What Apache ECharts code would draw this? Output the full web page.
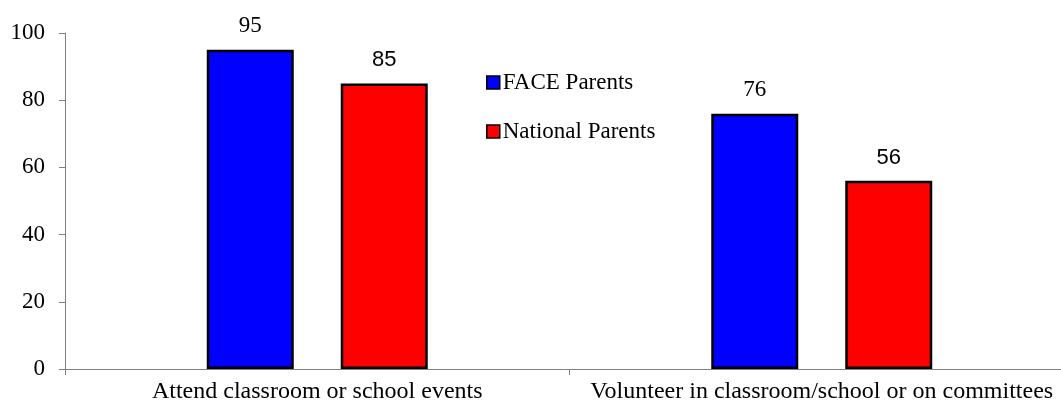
<!DOCTYPE html>
<html>
<head>
<meta charset="utf-8">
<script src="https://cdn.jsdelivr.net/npm/echarts@6/dist/echarts.min.js"></script>
<style>
  html, body { margin: 0; padding: 0; background: #fff; }
  #chart { width: 1061px; height: 406px; }
</style>
</head>
<body>
<div id="chart"></div>
<script>
const categories = ['Attend classroom or school events', 'Volunteer in classroom/school or on committees']
const faceParents = [95, 76]
const nationalParents = [85, 56]
const yTicks = [0, 20, 40, 60, 80, 100]

const serif = '"Liberation Serif", "Times New Roman", serif'
const sans = '"Liberation Sans", Arial, sans-serif'

const chart = echarts.init(document.getElementById('chart'))
chart.setOption({
  animation: false,
  textStyle: { fontFamily: serif },
  // plot runs a little past the right edge, like the original
  grid: { left: 65, right: -13, top: 33, bottom: 37, containLabel: false, outerBoundsMode: 'none' },
  legend: {
    orient: 'vertical',
    left: 481,
    top: 66,
    itemWidth: 13,
    itemHeight: 13,
    itemGap: 26,
    icon: 'rect',
    itemStyle: { borderColor: '#000', borderWidth: 1.5 },
    textStyle: { fontFamily: serif, fontSize: 23, color: '#000', padding: [0, 0, 0, -2] },
    data: ['FACE Parents', 'National Parents']
  },
  xAxis: {
    type: 'category',
    data: categories,
    axisLine: { lineStyle: { color: '#808080', width: 1 } },
    axisTick: { show: true, length: 6, lineStyle: { color: '#808080' } },
    axisLabel: { interval: 0, fontFamily: serif, fontSize: 24, color: '#000', margin: 11 }
  },
  yAxis: {
    type: 'value',
    min: yTicks[0],
    max: yTicks[yTicks.length - 1],
    interval: 20,
    splitLine: { show: false },
    axisLine: { show: true, lineStyle: { color: '#808080', width: 1 } },
    axisTick: { show: true, length: 6, lineStyle: { color: '#808080' } },
    axisLabel: { fontFamily: serif, fontSize: 23, color: '#000', margin: 20 }
  },
  series: [
    {
      name: 'FACE Parents',
      type: 'bar',
      data: faceParents,
      barWidth: 87,
      barGap: '54%',
      itemStyle: { color: '#0000ff', borderColor: '#000', borderWidth: 2.5 },
      label: { show: true, position: 'top', distance: 12, fontFamily: serif, fontSize: 23, color: '#000' }
    },
    {
      name: 'National Parents',
      type: 'bar',
      data: nationalParents,
      barWidth: 87,
      itemStyle: { color: '#ff0000', borderColor: '#000', borderWidth: 2.5 },
      label: { show: true, position: 'top', distance: 12, fontFamily: sans, fontSize: 22, color: '#000' }
    }
  ]
})
</script>
</body>
</html>
